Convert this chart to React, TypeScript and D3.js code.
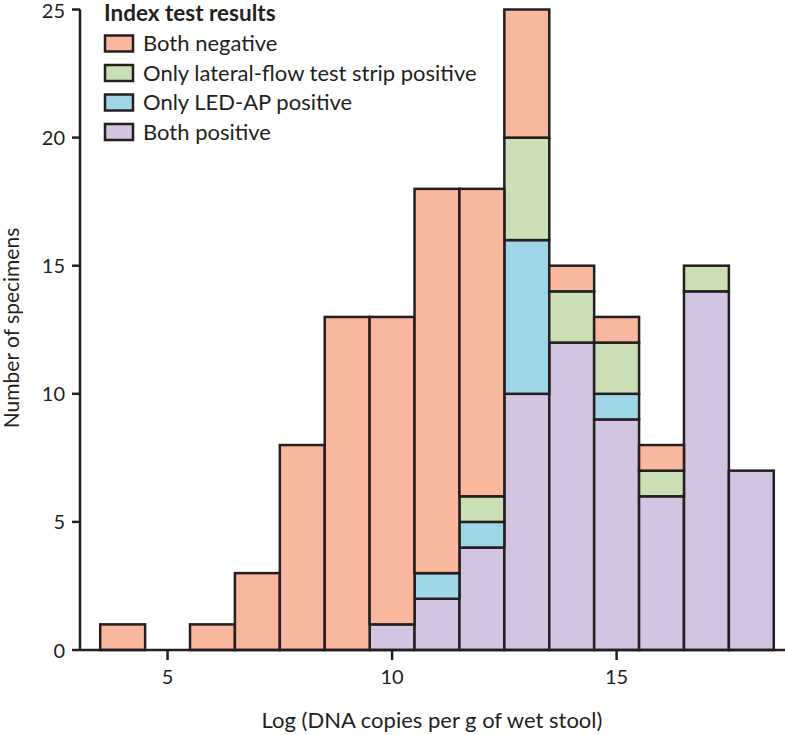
import React from "react";
import * as d3 from "d3";

const binCenters = [4, 5, 6, 7, 8, 9, 10, 11, 12, 13, 14, 15, 16, 17, 18];
const bothPositive = [0, 0, 0, 0, 0, 0, 1, 2, 4, 10, 12, 9, 6, 14, 7];
const ledOnly = [0, 0, 0, 0, 0, 0, 0, 1, 1, 6, 0, 1, 0, 0, 0];
const lateralOnly = [0, 0, 0, 0, 0, 0, 0, 0, 1, 4, 2, 2, 1, 1, 0];
const bothNegative = [1, 0, 1, 3, 8, 13, 12, 15, 12, 5, 1, 1, 1, 0, 0];

const seriesNames = [
  "Both positive",
  "Only LED-AP positive",
  "Only lateral-flow test strip positive",
  "Both negative",
];
const legendOrder = [
  "Both negative",
  "Only lateral-flow test strip positive",
  "Only LED-AP positive",
  "Both positive",
];
const colors: Record<string, string> = {
  "Both positive": "#d3c5e1",
  "Only LED-AP positive": "#9ed6e8",
  "Only lateral-flow test strip positive": "#cae0b4",
  "Both negative": "#f9b79e",
};
const xTicks = [5, 10, 15];
const yTicks = [0, 5, 10, 15, 20, 25];

const W = 785;
const H = 735;
const FONT = "Lato, 'Open Sans', sans-serif";
const INK = "#231f20";

export default function App() {
  const x = d3.scaleLinear().domain([3.05, 18.75]).range([80, 785]);
  const y = d3.scaleLinear().domain([0, 25]).range([650, 9.5]);

  const rows = binCenters.map((c, i) => ({
    c,
    "Both positive": bothPositive[i],
    "Only LED-AP positive": ledOnly[i],
    "Only lateral-flow test strip positive": lateralOnly[i],
    "Both negative": bothNegative[i],
  }));
  const stack = d3.stack<any>().keys(seriesNames)(rows);

  return (
    <svg width={W} height={H} style={{ display: "block", position: "absolute", left: 0, top: 0 }}>
      <rect width={W} height={H} fill="#fff" />
      {stack.map((s) =>
        s.map((d, i) => {
          if (d[1] - d[0] <= 0) return null;
          const c = rows[i].c;
          return (
            <rect
              key={s.key + i}
              x={x(c - 0.5)}
              width={x(c + 0.5) - x(c - 0.5)}
              y={y(d[1])}
              height={y(d[0]) - y(d[1])}
              fill={colors[s.key]}
              stroke={INK}
              strokeWidth={2.5}
            />
          );
        })
      )}
      {/* axes */}
      <line x1={80} x2={80} y1={y(25)} y2={y(0)} stroke={INK} strokeWidth={2.5} />
      <line x1={80} x2={785} y1={y(0)} y2={y(0)} stroke={INK} strokeWidth={2.5} />
      {yTicks.map((t) => (
        <g key={"y" + t}>
          <line x1={72} x2={80} y1={y(t)} y2={y(t)} stroke={INK} strokeWidth={2.5} />
          <text
            x={65}
            y={Math.max(y(t) + 7.5, 18)}
            textAnchor="end"
            fontFamily={FONT}
            fontSize={20}
            fill={INK}
          >
            {t}
          </text>
        </g>
      ))}
      {xTicks.map((t) => (
        <g key={"x" + t}>
          <line x1={x(t)} x2={x(t)} y1={y(0)} y2={y(0) + 10} stroke={INK} strokeWidth={2.5} />
          <text
            x={x(t)}
            y={684}
            textAnchor="middle"
            fontFamily={FONT}
            fontSize={20}
            fill={INK}
          >
            {t}
          </text>
        </g>
      ))}
      <text x={432} y={728} textAnchor="middle" fontFamily={FONT} fontSize={22} fill={INK}>
        Log (DNA copies per g of wet stool)
      </text>
      <text
        transform={`translate(19,328) rotate(-90)`}
        textAnchor="middle"
        fontFamily={FONT}
        fontSize={21}
        fill={INK}
      >
        Number of specimens
      </text>
      {/* legend */}
      <text x={104} y={21} fontFamily={FONT} fontSize={22.5} fontWeight="bold" fill={INK}>
        Index test results
      </text>
      {legendOrder.map((k, i) => (
        <g key={k}>
          <rect
            x={105}
            y={35.5 + i * 29.5}
            width={28}
            height={16}
            fill={colors[k]}
            stroke={INK}
            strokeWidth={2.5}
          />
          <text x={143} y={51 + i * 29.5} fontFamily={FONT} fontSize={22} fill={INK}>
            {k}
          </text>
        </g>
      ))}
    </svg>
  );
}
